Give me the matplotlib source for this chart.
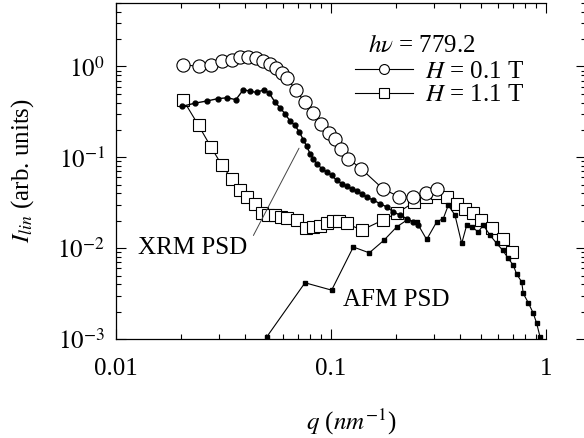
import matplotlib.pyplot as plt

plt.rcParams['font.family'] = ['Liberation Serif', 'DejaVu Serif']
plt.rcParams['mathtext.fontset'] = 'stix'
plt.rcParams['axes.unicode_minus'] = False

# XRM intensity, H = 0.1 T (open circles)
q_h01 = [0.0206, 0.0242, 0.0277, 0.0311, 0.0345, 0.0378, 0.0412, 0.0448, 0.0484,
         0.0520, 0.0555, 0.0590, 0.0626, 0.0687, 0.0757, 0.0827, 0.0898, 0.0979,
         0.1044, 0.1119, 0.1204, 0.1379, 0.1739, 0.2078, 0.2414, 0.2766, 0.311]
i_h01 = [1.05, 1.00, 1.04, 1.135, 1.19, 1.265, 1.288, 1.246, 1.164,
         1.07, 0.958, 0.844, 0.743, 0.545, 0.405, 0.307, 0.235, 0.185,
         0.160, 0.125, 0.0968, 0.0751, 0.0453, 0.0366, 0.0366, 0.0405, 0.0453]

# XRM intensity, H = 1.1 T (open squares)
q_h11 = [0.0206, 0.0242, 0.0277, 0.0311, 0.0345, 0.0378, 0.0407, 0.0443, 0.0479,
         0.0511, 0.0549, 0.0585, 0.0626, 0.0692, 0.0765, 0.0827, 0.0889, 0.0955,
         0.1025, 0.1093, 0.1183, 0.1389, 0.1739, 0.2028, 0.2432, 0.2766, 0.312,
         0.345, 0.384, 0.420, 0.456, 0.497, 0.559, 0.629, 0.697]
i_h11 = [0.423, 0.225, 0.129, 0.0817, 0.0583, 0.0434, 0.0363, 0.0310, 0.0244,
         0.0231, 0.0231, 0.0221, 0.0215, 0.0203, 0.0165, 0.0171, 0.0175, 0.0187,
         0.0200, 0.0200, 0.0187, 0.0158, 0.0203, 0.0243, 0.0320, 0.0363, 0.0405,
         0.0366, 0.0310, 0.0273, 0.0241, 0.0203, 0.0165, 0.0125, 0.0091]

# XRM power spectral density (small filled dots)
q_xrm = [0.0202, 0.0233, 0.0266, 0.0297, 0.0329, 0.0361, 0.0391, 0.0420, 0.0451,
         0.0488, 0.0516, 0.0549, 0.0579, 0.0611, 0.0645, 0.0680, 0.0712, 0.0743,
         0.0771, 0.0799, 0.0828, 0.0858, 0.0906, 0.0955, 0.1007, 0.1063, 0.1121,
         0.1183, 0.1248, 0.1317, 0.1389, 0.1466, 0.1573, 0.1690, 0.1816, 0.1949,
         0.2094, 0.2249, 0.2414, 0.254]
i_xrm = [0.363, 0.395, 0.418, 0.442, 0.453, 0.431, 0.555, 0.535, 0.518,
         0.555, 0.509, 0.405, 0.352, 0.302, 0.251, 0.225, 0.190, 0.157,
         0.132, 0.110, 0.0968, 0.0853, 0.0751, 0.0689, 0.0634, 0.0559, 0.0514,
         0.0480, 0.0453, 0.0426, 0.0392, 0.0366, 0.0337, 0.0310, 0.0284, 0.0251,
         0.0231, 0.0212, 0.0195, 0.0179]

# AFM power spectral density (small filled squares)
q_afm = [0.0502, 0.0757, 0.1007, 0.127, 0.1507, 0.1765, 0.2022, 0.2249, 0.2504,
         0.2786, 0.3102, 0.3330, 0.3512, 0.3773, 0.4055, 0.4277, 0.4511, 0.4842,
         0.5110, 0.5493, 0.5897, 0.6290, 0.6677, 0.7043, 0.7304, 0.7710, 0.7838,
         0.8271, 0.8730, 0.9049, 0.9380]
i_afm = [1.05e-3, 4.16e-3, 3.45e-3, 0.0103, 0.00888, 0.01225, 0.01714, 0.0203, 0.0193,
         0.01246, 0.01945, 0.0212, 0.0297, 0.0231, 0.01127, 0.0179, 0.01714, 0.0151,
         0.0179, 0.0139, 0.01127, 0.0095, 0.0077, 0.0065, 0.00518, 0.00426, 0.00318,
         0.00251, 0.00192, 0.00149, 0.00106]

x_ticks = [0.01, 0.1, 1]
x_tick_labels = ['0.01', '0.1', '1']
y_ticks = [1e-3, 1e-2, 1e-1, 1e0]
y_tick_labels = [r'$10^{-3}$', r'$10^{-2}$', r'$10^{-1}$', r'$10^{0}$']

fig = plt.figure(figsize=(5.84, 4.38), dpi=100)
ax = fig.add_axes([116 / 584, 1 - 339 / 438, 469.5 / 584, 336 / 438])

ax.plot(q_h11, i_h11, '-s', color='black', lw=0.8, ms=9, mfc='white', mec='black',
        mew=0.8, label=r'$H$ = 1.1 T', zorder=2)
ax.plot(q_h01, i_h01, '-o', color='black', lw=0.8, ms=9.5, mfc='white', mec='black',
        mew=0.8, label=r'$H$ = 0.1 T', zorder=3)
ax.plot(q_xrm, i_xrm, '-o', color='black', lw=1.0, ms=3.5, zorder=4)
ax.plot(q_afm, i_afm, '-s', color='black', lw=0.8, ms=3.2, zorder=4)

ax.set_xscale('log')
ax.set_yscale('log')
ax.set_xlim(0.01, 1.527)
ax.set_ylim(1e-3, 5)
ax.set_xticks(x_ticks)
ax.set_xticklabels(x_tick_labels)
ax.set_yticks(y_ticks)
ax.set_yticklabels(y_tick_labels)
ax.tick_params(which='both', direction='in', top=True, right=True, width=0.8,
               labelsize=18)
ax.tick_params(axis='x', which='both', pad=14)
ax.tick_params(axis='y', which='both', pad=8)
ax.tick_params(which='major', length=7)
ax.tick_params(which='minor', length=3.5)

# frame stops at q = 1 on top and bottom
ax.spines['top'].set_bounds(0.01, 1.0)
ax.spines['bottom'].set_bounds(0.01, 1.0)
for s in ax.spines.values():
    s.set_linewidth(0.9)

ax.set_xlabel(r'$q$ ($nm^{-1}$)', fontsize=18, labelpad=19)
ax.set_ylabel(r'$I_{lin}$ (arb. units)', fontsize=18, labelpad=15)

ax.text(0.536, 0.872, r'$h\nu$ = 779.2', transform=ax.transAxes,
        fontsize=18, ha='left', va='center')
handles, labels = ax.get_legend_handles_labels()
ax.legend(handles[::-1], labels[::-1], loc='upper left', bbox_to_anchor=(0.51, 0.83),
          frameon=False, fontsize=18, handlelength=2.3, handletextpad=0.5,
          labelspacing=0.05, borderpad=0, borderaxespad=0, markerscale=0.75)

ax.annotate('XRM PSD', xy=(0.071, 0.126), xytext=(0.0226, 0.0100),
            ha='center', va='center', fontsize=18,
            arrowprops=dict(arrowstyle='-', color='#444444', lw=0.7,
                            relpos=(1, 0.5), shrinkA=6, shrinkB=0))
ax.text(0.596, 0.116, 'AFM PSD', transform=ax.transAxes,
        fontsize=18, ha='center', va='center')

fig.savefig('out.png', dpi=100)
